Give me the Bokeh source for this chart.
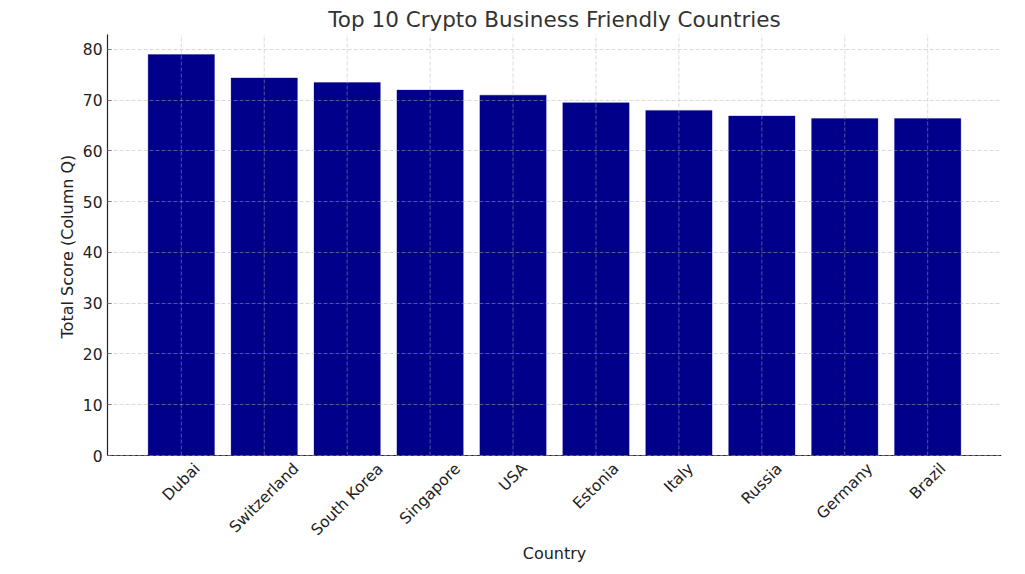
from bokeh.plotting import figure
from bokeh.models import Range1d, FixedTicker, ColumnDataSource, Label, Span, Title
from bokeh.embed import file_html
from bokeh.resources import INLINE
import math

countries = ["Dubai", "Switzerland", "South Korea", "Singapore", "USA",
             "Estonia", "Italy", "Russia", "Germany", "Brazil"]
scores = [79.0, 74.4, 73.5, 72.0, 71.0, 69.5, 68.0, 66.9, 66.4, 66.4]
y_ticks = [0, 10, 20, 30, 40, 50, 60, 70, 80]
y_title = "Total Score (Column Q)"
x_title = "Country"

n = len(countries)
xs = list(range(n))
bar_w = 0.8
pad = 0.05 * ((n - 1) + bar_w)
x_lo = -bar_w / 2 - pad
x_hi = (n - 1) + bar_w / 2 + pad
y_hi = max(scores) * 1.05

FONT = "DejaVu Sans"
TICK_PX = 15.5
LABEL_PX = 16
PLOT_PX = 421      # height of the value area in pixels
BELOW_PX = 111     # room under the value axis for category labels
y_lo = -BELOW_PX * y_hi / PLOT_PX

# approximate DejaVu Sans advance widths (em) for label width estimation
EM = {"a": .613, "b": .635, "c": .550, "d": .635, "e": .615, "g": .635, "h": .634,
      "i": .278, "l": .278, "m": .974, "n": .634, "o": .612, "p": .635, "r": .411,
      "s": .521, "t": .392, "u": .634, "w": .818, "y": .592, "z": .525, " ": .318,
      "(": .390, ")": .390,
      "A": .684, "B": .686, "C": .698, "D": .770, "E": .632, "G": .775, "I": .295,
      "K": .656, "Q": .787, "R": .695, "S": .635, "T": .611, "U": .732}


def text_w(s, px):
    return sum(EM.get(c, 0.6) for c in s) * px


src = ColumnDataSource(dict(x=xs, top=scores, name=countries))
grid_src = ColumnDataSource(dict(x=xs, y0=[0] * n, y1=[y_hi] * n))

p = figure(frame_width=894, frame_height=PLOT_PX + BELOW_PX,
           min_border_left=107, min_border_right=16,
           min_border_top=34, min_border_bottom=0,
           x_range=Range1d(x_lo, x_hi), y_range=Range1d(y_lo, y_hi),
           x_axis_location=None,
           output_backend="svg", toolbar_location=None,
           title="Top 10 Crypto Business Friendly Countries")

p.vbar(x="x", top="top", width=bar_w, bottom=0, source=src,
       fill_color="#00008B", line_color="#00008B", line_alpha=0.3)

# vertical grid lines at the category ticks, over the bars
p.segment(x0="x", y0="y0", x1="x", y1="y1", source=grid_src,
          line_color="#b0b0b0", line_alpha=0.6, line_dash="4 2", line_width=0.8)

p.title.text_font = FONT
p.title.text_font_size = "21.5px"
p.title.text_font_style = "normal"
p.title.text_color = "#333333"
p.title.align = "center"
p.title.standoff = 5

p.outline_line_color = None
p.background_fill_color = "white"
p.border_fill_color = "white"
p.xgrid.visible = False

ax = p.yaxis[0]
ax.ticker = FixedTicker(ticks=y_ticks)
ax.bounds = (0, y_hi)
ax.axis_line_color = "#222222"
ax.axis_line_width = 1.2
ax.major_tick_in = 4
ax.major_tick_out = 0
ax.major_tick_line_color = "#444444"
ax.minor_tick_line_color = None
ax.major_label_text_font = FONT
ax.major_label_text_font_size = f"{TICK_PX}px"
ax.major_label_text_color = "#222222"
ax.major_label_standoff = 5

# y axis title, centred on the value part of the axis
p.add_layout(Title(text=y_title, align="left",
                   offset=BELOW_PX + (PLOT_PX - text_w(y_title, LABEL_PX)) / 2,
                   standoff=6, text_font=FONT,
                   text_font_size=f"{LABEL_PX}px", text_font_style="normal",
                   text_color="#222222"), "left")

g = p.ygrid[0]
g.ticker = FixedTicker(ticks=y_ticks)
g.grid_line_color = "#b0b0b0"
g.grid_line_alpha = 0.6
g.grid_line_dash = "4 2"
g.grid_line_width = 0.8
g.level = "overlay"

# category (x) axis line at value 0
p.add_layout(Span(location=0, dimension="width", line_color="#222222",
                  line_width=1.2))

# rotated category labels, centred on their tick like the reference
ang = math.pi / 4
for i, name in enumerate(countries):
    L = text_w(name, TICK_PX)
    h = TICK_PX
    half_box = (L + h) / (2 * math.sqrt(2))
    p.add_layout(Label(x=i, y=0, y_offset=-(5 + half_box),
                       text=name, angle=ang, text_align="center",
                       text_baseline="middle", text_font=FONT,
                       text_font_size=f"{TICK_PX}px", text_color="#222222"))

# x axis title
p.add_layout(Label(x=(x_lo + x_hi) / 2, y=y_lo, y_offset=13, text=x_title,
                   text_align="center", text_baseline="middle", text_font=FONT,
                   text_font_size=f"{LABEL_PX}px", text_color="#222222"))

open("out.html", "w").write(file_html(p, INLINE))
